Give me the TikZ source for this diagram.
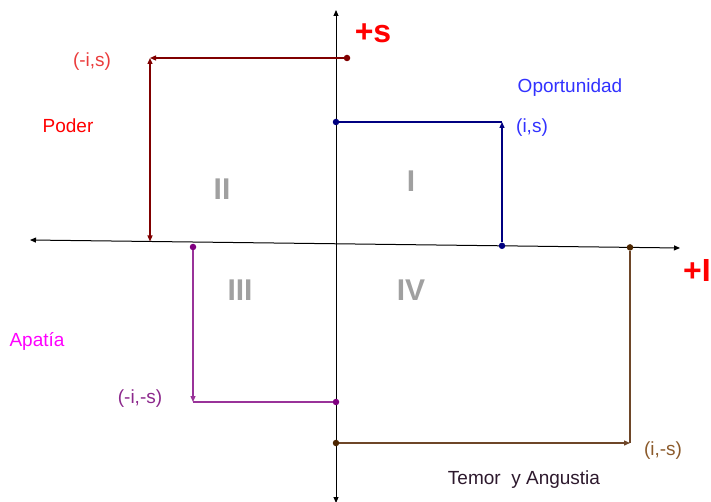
\documentclass[tikz,border=0pt]{standalone}
\usepackage{fontspec}
\setmainfont{Liberation Sans}
\usetikzlibrary{arrows.meta}

\definecolor{podline}{RGB}{128,0,0}
\definecolor{podtext}{RGB}{235,60,60}
\definecolor{oporline}{RGB}{0,0,128}
\definecolor{oportext}{RGB}{50,50,255}
\definecolor{apatline}{RGB}{153,51,153}
\definecolor{apatdot}{RGB}{128,0,128}
\definecolor{apattext}{RGB}{140,40,140}
\definecolor{apatname}{RGB}{255,0,255}
\definecolor{temline}{RGB}{110,70,40}
\definecolor{temdot}{RGB}{77,38,0}
\definecolor{temtext}{RGB}{139,90,43}
\definecolor{temname}{RGB}{45,25,45}
\definecolor{quadgray}{RGB}{160,160,160}

\begin{document}
\begin{tikzpicture}[
  x=1pt, y=-1pt,
  font=\fontsize{19}{22}\selectfont,
  >={Triangle[length=6pt,width=5pt]},
  axis/.style={line width=1pt, black},
  pod/.style={line width=1.3pt, podline},
  opor/.style={line width=1.3pt, oporline},
  apat/.style={line width=1.3pt, apatline},
  tem/.style={line width=1.3pt, temline},
  dot/.style={circle, fill, inner sep=0pt, minimum size=6.5pt},
  quad/.style={font=\fontsize{30}{32}\selectfont\bfseries, text=quadgray},
  sign/.style={font=\fontsize{32}{34}\selectfont\bfseries, text=red},
]
\useasboundingbox (0,0) rectangle (711,502);

%% ---------- axes ----------
\coordinate (xL) at (30,240);
\coordinate (xR) at (680,248);
\coordinate (yT) at (336,10);
\coordinate (yB) at (336,503);
\draw[axis,<->] (xL) -- (xR);
\draw[axis,<->] (yB) -- (yT);

\node[sign] (sS) at (373,33) {+s};
\node[sign] (sI) at (697,270) {+I};

%% ---------- quadrants ----------
\node[quad] (qII) at (222,189) {II};
\node[quad] (qI) at (411,181) {I};
\node[quad] (qIII) at (240,290) {III};
\node[quad] (qIV) at (411,290) {IV};

%% ---------- poder (-i,s) ----------
\node[dot, podline] (pS) at (347,58) {};
\coordinate (pC) at (150,58);
\coordinate (pA) at (150,241.5);
\draw[pod,->] (pS) -- (pC);
\draw[pod,<->] (pA) -- (pC);
\node[text=podtext] (pLbl) at (92,62) {(-i,s)};
\node[text=red] (pName) at (68,126) {Poder};

%% ---------- oportunidad (i,s) ----------
\node[dot, oporline] (oS) at (336,122) {};
\node[dot, oporline] (oA) at (502,245.8) {};
\coordinate (oC) at (502,122);
\draw[opor] (oS) -- (oC);
\draw[opor,->] (oA) -- (oC);
\node[text=oportext] (oLbl) at (532,128) {(i,s)};
\node[text=oportext] (oName) at (570,88) {Oportunidad};

%% ---------- apatia (-i,-s) ----------
\node[dot, apatdot] (aA) at (193,247) {};
\node[dot, apatdot] (aS) at (336,402) {};
\coordinate (aC) at (193,402);
\draw[apat,->] (aA) -- (aC);
\draw[apat] (aC) -- (aS);
\node[text=apattext] (aLbl) at (140,399) {(-i,-s)};
\node[text=apatname] (aName) at (37,341) {Apatía};

%% ---------- temor (i,-s) ----------
\node[dot, temdot] (tS) at (336,443) {};
\node[dot, temdot] (tA) at (630,247.4) {};
\coordinate (tC) at (630,443);
\draw[tem,->] (tS) -- (tC);
\draw[tem] (tC) -- (tA);
\node[text=temtext] (tLbl) at (663,451) {(i,-s)};
\node[text=temname] (tName) at (524,480) {Temor\ \ y Angustia};

\end{tikzpicture}
\end{document}
